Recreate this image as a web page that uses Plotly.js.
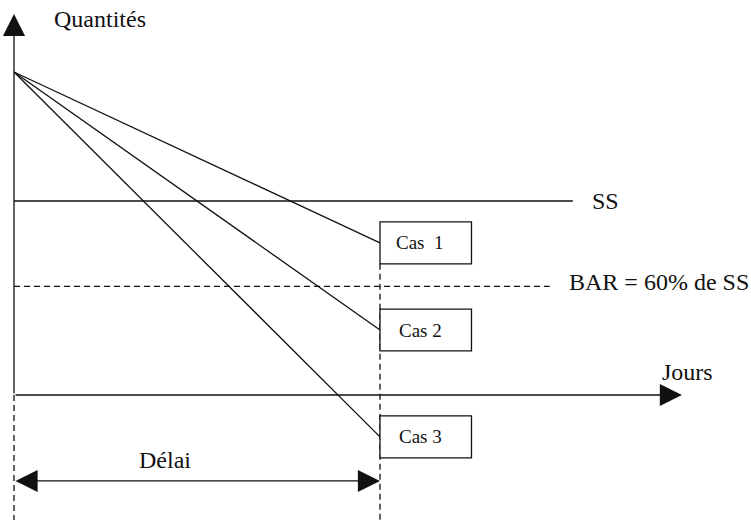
<!DOCTYPE html>
<html>
<head>
<meta charset="utf-8">
<script src="https://cdn.plot.ly/plotly-3.0.1.min.js"></script>
<style>html,body{margin:0;padding:0;background:#fff;}#chart{width:751px;height:523px;}</style>
</head>
<body>
<div id="chart"></div>
<script>
// ---- data (days / quantities) ----
const jours = [0, 10];              // start and lead time (délai)
const stockInitial = 166.5;          // quantity at day 0
const casLabels = ['Cas  1', 'Cas 2', 'Cas 3'];
const stockFin = [78.4, 33.5, -21.6]; // quantity at end of délai
const SS = 100;                      // stock de sécurité
const BAR = 56;                      // BAR = 60% de SS (as drawn)
const ssFin = 15.27, barFin = 14.64; // where the SS / BAR lines stop
const xAxisEnd = 18.25, yAxisTop = 195.4, yBottom = -64.4;
const delaiY = -44.3;
const boxHalf = 10.8, boxWidth = 2.5;

const ink = '#111';
const serif = 'Liberation Serif';
const traces = [];

// decreasing stock lines
stockFin.forEach((v) => {
  traces.push({x: [jours[0], jours[1]], y: [stockInitial, v], mode: 'lines',
    line: {color: ink, width: 1.3}, hoverinfo: 'skip'});
});
// SS line
traces.push({x: [0, ssFin], y: [SS, SS], mode: 'lines', line: {color: ink, width: 1.3}, hoverinfo: 'skip'});
// BAR dashed line
traces.push({x: [0, barFin], y: [BAR, BAR], mode: 'lines', line: {color: ink, width: 1.3, dash: '6px,4px'}, hoverinfo: 'skip'});
// y axis dashed part below zero
traces.push({x: [0, 0], y: [0, yBottom], mode: 'lines', line: {color: ink, width: 1.3, dash: '6px,4px'}, hoverinfo: 'skip'});
// vertical dashed at délai
traces.push({x: [jours[1], jours[1]], y: [stockFin[0] - boxHalf, yBottom], mode: 'lines', line: {color: ink, width: 1.3, dash: '6px,4px'}, hoverinfo: 'skip'});

const shapes = stockFin.map((v) => ({
  type: 'rect', xref: 'x', yref: 'y', x0: jours[1], x1: jours[1] + boxWidth,
  y0: v - boxHalf, y1: v + boxHalf, line: {color: ink, width: 1.3}, fillcolor: '#fff', layer: 'above'
}));

const arrowBase = {text: '', showarrow: true, axref: 'x', ayref: 'y', xref: 'x', yref: 'y',
  arrowhead: 2, arrowsize: 3.4, arrowwidth: 1.3, arrowcolor: ink, standoff: 0, startstandoff: 0};

const annotations = [
  Object.assign({}, arrowBase, {x: 0, y: yAxisTop + 1, ax: 0, ay: 0}),
  Object.assign({}, arrowBase, {x: xAxisEnd, y: 0, ax: 0, ay: 0}),
  Object.assign({}, arrowBase, {x: jours[1], y: delaiY, ax: jours[0], ay: delaiY, arrowside: 'end+start', startarrowhead: 2, startarrowsize: 3.4}),
  {text: 'Quantités', x: 2.35, y: 194, xref: 'x', yref: 'y', showarrow: false, xanchor: 'center', yanchor: 'middle', font: {family: serif, size: 24, color: ink}},
  {text: 'Jours', x: 18.39, y: 11.9, xref: 'x', yref: 'y', showarrow: false, xanchor: 'center', yanchor: 'middle', font: {family: serif, size: 24, color: ink}},
  {text: 'SS', x: 15.74, y: SS, xref: 'x', yref: 'y', showarrow: false, xanchor: 'left', yanchor: 'middle', font: {family: serif, size: 24, color: ink}},
  {text: 'BAR = 60% de SS', x: 15.12, y: BAR + 2, xref: 'x', yref: 'y', showarrow: false, xanchor: 'left', yanchor: 'middle', font: {family: serif, size: 24, color: ink}},
  {text: 'Délai', x: 4.13, y: -33.5, xref: 'x', yref: 'y', showarrow: false, xanchor: 'center', yanchor: 'middle', font: {family: serif, size: 24, color: ink}}
];
stockFin.forEach((v, i) => {
  annotations.push({text: casLabels[i].replace(/  /g, '&nbsp; '), x: jours[1] + boxWidth / 2 - 0.15, y: v, xref: 'x', yref: 'y', showarrow: false,
    xanchor: 'center', yanchor: 'middle', font: {family: serif, size: 19, color: ink}});
});

const layout = {
  width: 751, height: 523,
  margin: {l: 0, r: 0, t: 0, b: 0},
  paper_bgcolor: '#fff', plot_bgcolor: '#fff',
  showlegend: false,
  font: {family: serif, color: ink},
  xaxis: {range: [-0.3825, 20.137], visible: false, fixedrange: true},
  yaxis: {range: [-65.98, 203.61], visible: false, fixedrange: true},
  shapes: shapes,
  annotations: annotations
};

Plotly.newPlot('chart', traces, layout, {staticPlot: true, displayModeBar: false});
</script>
</body>
</html>
